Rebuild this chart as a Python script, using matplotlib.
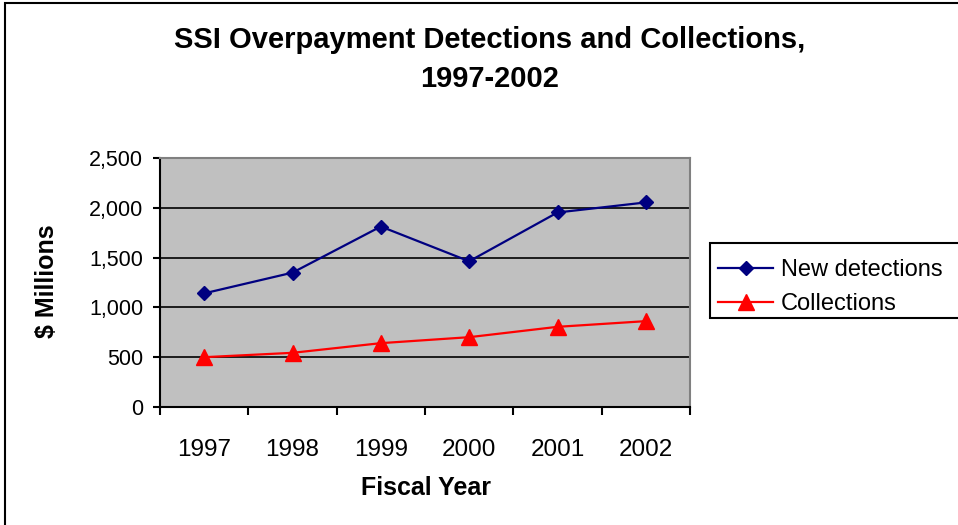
import matplotlib
matplotlib.use("Agg")
import matplotlib.pyplot as plt
from matplotlib.patches import Rectangle
from matplotlib.ticker import FuncFormatter, MultipleLocator

years = ["1997", "1998", "1999", "2000", "2001", "2002"]
new_detections = [1141, 1349, 1812, 1463, 1953, 2054]
collections = [500, 544, 641, 701, 805, 862]

plt.rcParams['font.family'] = ['Liberation Sans', 'DejaVu Sans']

W, H = 958, 525
fig = plt.figure(figsize=(W / 100, H / 100), dpi=100)
fig.patch.set_facecolor('white')

# outer chart border (cut off at right and bottom)
fig.patches.append(Rectangle((5 / W, -0.1), 1.2, 1 - 3 / H + 0.1, transform=fig.transFigure,
                             fill=False, edgecolor='black', linewidth=1.5, zorder=0))

ax = fig.add_axes([160 / W, 1 - 407 / H, 530 / W, 249 / H])
ax.set_facecolor('#C0C0C0')

x = [i + 0.5 for i in range(len(years))]
ax.plot(x, new_detections, color='#000080', marker='D', markersize=7.5, linewidth=1.6,
        label='New detections', zorder=3, clip_on=False)
ax.plot(x, collections, color='#FF0000', marker='^', markersize=11, linewidth=1.6,
        label='Collections', zorder=3, clip_on=False)

ax.set_xlim(0, len(years))
ax.set_ylim(0, 2500)
ax.yaxis.set_major_locator(MultipleLocator(500))
ax.yaxis.set_major_formatter(FuncFormatter(lambda v, p: f"{int(v):,}"))
ax.set_xticks(range(len(years) + 1))
ax.set_xticklabels([])
ax.set_xticks(x, minor=True)
ax.set_xticklabels(years, minor=True)

for v in [500, 1000, 1500, 2000]:
    ax.axhline(v, color='black', linewidth=1.2, zorder=1)

for s in ['top', 'right']:
    ax.spines[s].set_color('#808080')
    ax.spines[s].set_linewidth(1.5)
for s in ['left', 'bottom']:
    ax.spines[s].set_color('black')
    ax.spines[s].set_linewidth(1.5)

ax.tick_params(axis='y', which='major', direction='out', length=5, width=1.5,
               labelsize=15.5, pad=7)
ax.tick_params(axis='x', which='major', direction='out', length=6, width=1.5)
ax.tick_params(axis='x', which='minor', length=0, labelsize=17.5, pad=23)

fig.text(490 / W, 1 - 48 / H, "SSI Overpayment Detections and Collections,",
         ha='center', va='baseline', fontsize=21, fontweight='bold')
fig.text(490 / W, 1 - 87 / H, "1997-2002",
         ha='center', va='baseline', fontsize=21, fontweight='bold')
fig.text(426 / W, 1 - 495 / H, "Fiscal Year", ha='center', va='baseline',
         fontsize=18, fontweight='bold')
fig.text(47 / W, 1 - 281 / H, "$ Millions", ha='center', va='center', rotation=90,
         fontsize=18, fontweight='bold')

# legend box (cut off at the right edge)
fig.patches.append(Rectangle((710 / W, 1 - 318 / H), 300 / W, 75 / H,
                             transform=fig.transFigure, fill=True, facecolor='white',
                             edgecolor='black', linewidth=1.5, zorder=1))
leg = fig.legend(loc='upper left', bbox_to_anchor=(718 / W, 1 - 259 / H),
                 fontsize=17, frameon=False, borderaxespad=0,
                 handlelength=2.35, handletextpad=0.3, labelspacing=0.5,
                 borderpad=0.0)
leg.set_zorder(2)

fig.savefig("out.png", dpi=100)
